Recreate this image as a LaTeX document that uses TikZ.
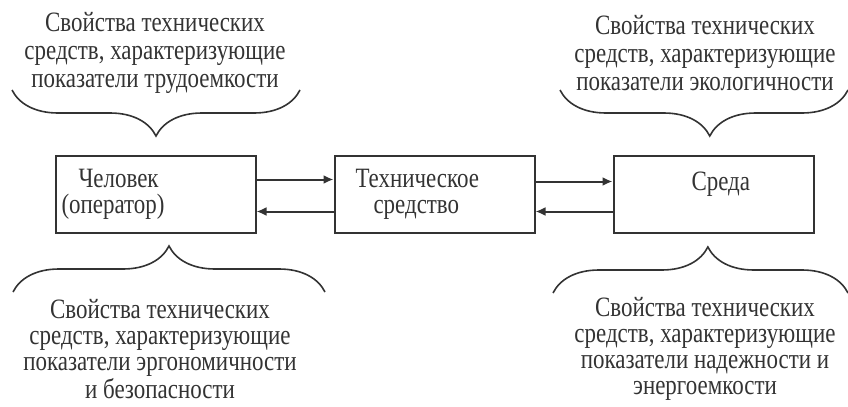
\documentclass[tikz,border=0pt]{standalone}
\usepackage{fontspec}
\setmainfont{Liberation Serif}[FakeStretch=0.82]
\usetikzlibrary{arrows.meta, positioning, decorations.pathreplacing}
\definecolor{cInk}{HTML}{333333}

\begin{document}
\begin{tikzpicture}[x=0.5pt, y=-0.5pt,
      node distance=38.5pt,
      box/.style = {draw=cInk, line width=1pt, minimum width=100pt, minimum height=38.5pt, text width=94pt, inner xsep=3pt, align=left, text=cInk, font=\fontsize{14}{13}\selectfont},
      note/.style = {align=center, text=cInk, font=\fontsize{14}{14}\selectfont},
      ar/.style = {-{Latex[length=5pt, width=4.5pt]}, draw=cInk, line width=1pt},
      brc/.style = {draw=cInk, line width=0.8pt, decorate, decoration={brace, amplitude=23pt, #1}} ]
    \useasboundingbox (0,0) rectangle (848,407);
    \node[box] (man) at (155.5,194.5) {\hspace*{8.5pt}Человек\\(оператор)};
    \node[box, right=of man] (tool) {\hspace*{7.5pt}Техническое\\\hspace*{16.5pt}средство};
    \node[box, right=of tool] (env) {\hspace*{36pt}Среда\\~};
    \draw[ar] ([yshift=7.5pt]man.east) -- ([yshift=7.5pt]tool.west);
    \draw[ar] ([yshift=-8.5pt]tool.west) -- ([yshift=-8.5pt]man.east);
    \draw[ar] ([yshift=6.5pt]tool.east) -- ([yshift=6.5pt]env.west);
    \draw[ar] ([yshift=-8.5pt]env.west) -- ([yshift=-8.5pt]tool.east);
    % braces above and below the boxes
    \draw[brc={mirror, aspect=0.5}] (12,90) -- (300,90);
    \draw[brc={mirror, aspect=0.52}] (560,90) -- (848,90);
    \draw[brc={aspect=0.5}] (13,292) -- (325,292);
    \draw[brc={aspect=0.525}] (553,293) -- (848,293);
    \node[note] (topL) at (155,53) {Свойства технических\\средств, характеризующие\\показатели трудоемкости};
    \node[note] (topR) at (705,53) {Свойства технических\\средств, характеризующие\\показатели экологичности};
    \node[note, font=\fontsize{14}{13}\selectfont] (botL) at (160,349) {Свойства технических\\средств, характеризующие\\показатели эргономичности\\и безопасности};
    \node[note, font=\fontsize{14}{13}\selectfont] (botR) at (705,349) {Свойства технических\\средств, характеризующие\\показатели надежности и\\энергоемкости};
\end{tikzpicture}
\end{document}
